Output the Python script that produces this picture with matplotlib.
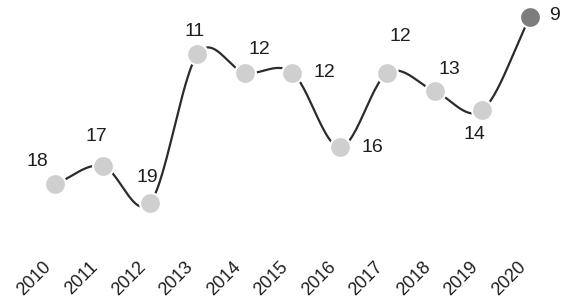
import numpy as np
import matplotlib
matplotlib.use("Agg")
import matplotlib.pyplot as plt
from matplotlib.transforms import ScaledTranslation

years = ["2010", "2011", "2012", "2013", "2014", "2015",
         "2016", "2017", "2018", "2019", "2020"]
ranks = [18, 17, 19, 11, 12, 12, 16, 12, 13, 14, 9]

# label offsets in points (dx, dy) around each marker
label_offsets = [(-13, 16.5), (-4.3, 21), (-2, 18.7), (-2, 16), (10, 16.5),
                 (23, 0), (23, 0), (9.4, 26), (10, 16), (-5.8, -18), (17.3, 1)]


def catmull_rom(xs, ys, n=30):
    # smooth path through the points
    xs = np.asarray(xs, float)
    ys = np.asarray(ys, float)
    px = np.concatenate([[2 * xs[0] - xs[1]], xs, [2 * xs[-1] - xs[-2]]])
    py = np.concatenate([[2 * ys[0] - ys[1]], ys, [2 * ys[-1] - ys[-2]]])
    out_x, out_y = [], []
    t = np.linspace(0, 1, n)
    for i in range(1, len(px) - 2):
        m0x = (px[i + 1] - px[i - 1]) / 2
        m1x = (px[i + 2] - px[i]) / 2
        m0y = (py[i + 1] - py[i - 1]) / 2
        m1y = (py[i + 2] - py[i]) / 2
        h00 = 2 * t**3 - 3 * t**2 + 1
        h10 = t**3 - 2 * t**2 + t
        h01 = -2 * t**3 + 3 * t**2
        h11 = t**3 - t**2
        out_x.append(h00 * px[i] + h10 * m0x + h01 * px[i + 1] + h11 * m1x)
        out_y.append(h00 * py[i] + h10 * m0y + h01 * py[i + 1] + h11 * m1y)
    return np.concatenate(out_x), np.concatenate(out_y)


plt.rcParams['font.family'] = ['Liberation Sans', 'DejaVu Sans']

fig = plt.figure(figsize=(5.62, 3.06), dpi=100)
ax = fig.add_axes([0, 0.1667, 1, 0.8333])

x = np.arange(len(years))
sx, sy = catmull_rom(x, ranks)
ax.plot(sx, sy, color="#2b2b2b", lw=1.6, zorder=2, solid_capstyle="round")

colors = ["#cfcfcf"] * (len(years) - 1) + ["#7d7d7d"]
for xi, yi, c in zip(x, ranks, colors):
    ax.plot(xi, yi, "o", ms=15, color=c, mec="white", mew=1.5, zorder=3)

for xi, yi, (dx, dy) in zip(x, ranks, label_offsets):
    ax.annotate(str(yi), (xi, yi), xytext=(dx, dy), textcoords="offset points",
                ha="center", va="center", fontsize=14, color="#1e1e1e")

ax.set_xlim(-1.158, 10.674)
ax.set_ylim(21.796, 8.086)

ax.set_xticks(x)
ax.set_xticklabels(years, rotation=45, ha="right", va="center",
                   rotation_mode="anchor", fontsize=13, color="#1e1e1e")
ax.tick_params(axis="x", length=0, pad=7)
offset = ScaledTranslation(-7 / 100, 0, fig.dpi_scale_trans)
for lbl in ax.get_xticklabels():
    lbl.set_transform(lbl.get_transform() + offset)
ax.set_yticks([])
for s in ax.spines.values():
    s.set_visible(False)

fig.savefig("out.png", dpi=100, facecolor="white")
